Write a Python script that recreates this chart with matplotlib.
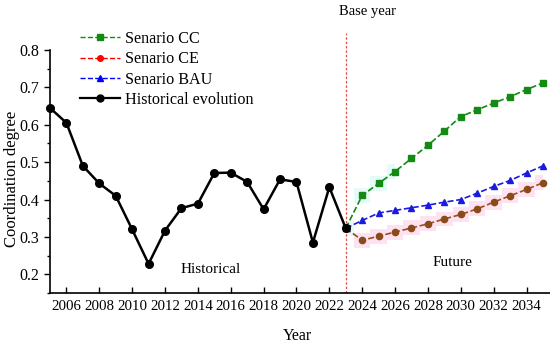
import matplotlib
matplotlib.use("Agg")
import matplotlib.pyplot as plt
from matplotlib.lines import Line2D
from matplotlib.ticker import MultipleLocator

plt.rcParams["font.family"] = ["Liberation Serif", "DejaVu Serif"]
plt.rcParams["font.size"] = 10.5

hist_years = list(range(2005, 2024))
hist_vals = [0.645, 0.605, 0.490, 0.443, 0.410, 0.320, 0.228, 0.317, 0.377, 0.389,
             0.471, 0.472, 0.447, 0.374, 0.454, 0.447, 0.285, 0.433, 0.323]

future_years = list(range(2023, 2036))
cc_vals = [0.323, 0.411, 0.443, 0.475, 0.510, 0.545, 0.583, 0.622, 0.640, 0.658, 0.675, 0.694, 0.712]
ce_vals = [0.323, 0.291, 0.302, 0.313, 0.324, 0.335, 0.348, 0.360, 0.375, 0.393, 0.410, 0.427, 0.445]
bau_vals = [0.323, 0.344, 0.364, 0.371, 0.378, 0.385, 0.393, 0.400, 0.417, 0.435, 0.451, 0.471, 0.490]

base_year = 2023

fig = plt.figure(figsize=(5.5, 3.5), dpi=100)
ax = fig.add_axes([50 / 550, 57 / 350, 500 / 550, 243 / 350])

# light uncertainty bands
ax.fill_between(future_years, [v - 0.02 for v in ce_vals], [v + 0.02 for v in ce_vals],
                step="mid", color="#fde3f1", lw=0, zorder=0)
ax.fill_between(future_years[:4], [v - 0.02 for v in cc_vals[:4]], [v + 0.02 for v in cc_vals[:4]],
                step="mid", color="#e6fbf8", lw=0, zorder=0)

ax.plot(future_years, cc_vals, ls="--", lw=1.2, color="#138a13", marker="s", ms=4.5,
        mfc="#138a13", mec="#138a13", zorder=3)
ax.plot(future_years, ce_vals, ls="--", lw=1.2, color="#a04a20", marker="o", ms=4.5,
        mfc="#8b4a1a", mec="#8b4a1a", zorder=3)
ax.plot(future_years, bau_vals, ls="--", lw=1.2, color="#1a1ae0", marker="^", ms=5,
        mfc="#1a1ae0", mec="#1a1ae0", zorder=3)
ax.plot(hist_years, hist_vals, ls="-", lw=1.8, color="black", marker="o", ms=5.5, zorder=4,
        clip_on=False)

ax.plot([base_year, base_year], [0.15, 0.846], ls=(0, (2, 1.5)), lw=0.9, color="#e05050",
        clip_on=False, zorder=2)

ax.set_xlim(2005, 2035.43)
ax.set_ylim(0.15, 0.8)
ax.set_xticks(list(range(2006, 2036, 2)))
ax.yaxis.set_major_locator(MultipleLocator(0.1))
ax.yaxis.set_minor_locator(MultipleLocator(0.05))
ax.tick_params(axis="x", direction="in", length=4, width=1, pad=5, labelsize=10.7)
ax.tick_params(axis="y", which="major", direction="out", length=4, width=1, labelsize=11.5)
ax.tick_params(axis="y", which="minor", direction="out", length=2.5, width=1)
for s in ("top", "right"):
    ax.spines[s].set_visible(False)
for s in ("left", "bottom"):
    ax.spines[s].set_linewidth(1.2)

ax.set_xlabel("Year", fontsize=11.5, va="center")
ax.xaxis.set_label_coords(0.494, -43 / 243)
ax.set_ylabel("Coordination degree", fontsize=12, va="center")
ax.yaxis.set_label_coords(-38 / 500, 0.47)

ax.text(2014.8, 0.213, "Historical", ha="center", va="center", fontsize=11)
ax.text(2029.5, 0.232, "Future", ha="center", va="center", fontsize=11)
fig.text(339 / 550, 1 - 12 / 350, "Base year", ha="left", va="center")

handles = [
    Line2D([], [], ls="--", lw=1, color="#138a13", marker="s", ms=4),
    Line2D([], [], ls="--", lw=1, color="red", marker="o", ms=4),
    Line2D([], [], ls="--", lw=1, color="blue", marker="^", ms=4.5),
    Line2D([], [], ls="-", lw=1.6, color="black", marker="o", ms=5),
]
labels = ["Senario CC", "Senario CE", "Senario BAU", "Historical evolution"]
fig.legend(handles, labels, loc="upper left", bbox_to_anchor=(80 / 550, 1 - 31 / 350),
           frameon=False, borderpad=0, borderaxespad=0, handlelength=2.5,
           handletextpad=0.3, labelspacing=0.27, fontsize=11.6)

fig.savefig("out.png", dpi=100)
